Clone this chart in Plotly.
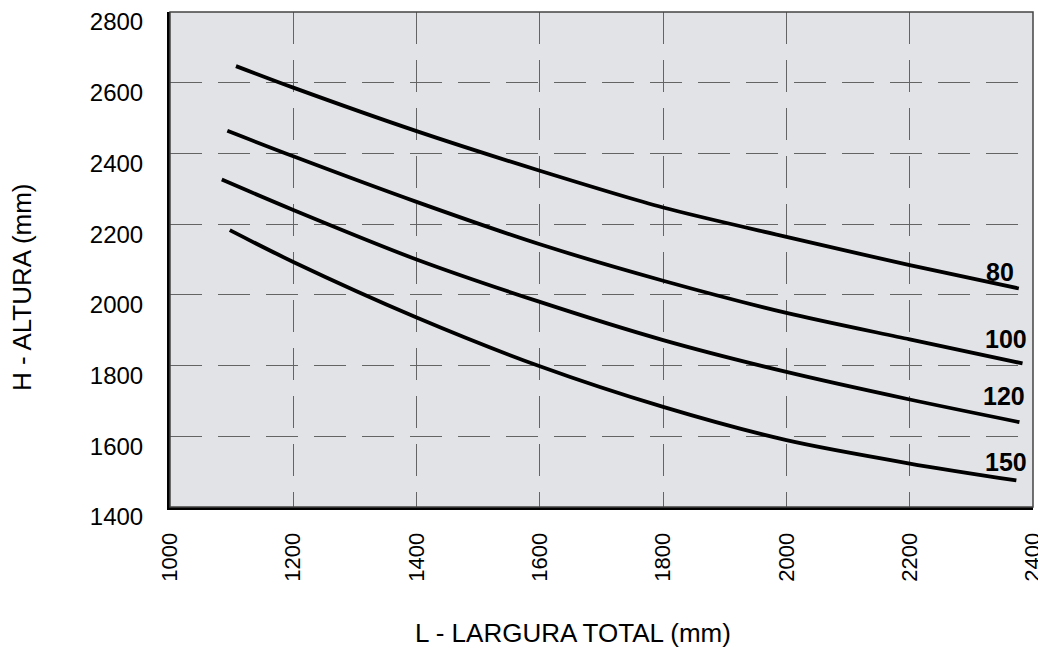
import plotly.graph_objects as go

# ---- data ----
x_ticks = [1000, 1200, 1400, 1600, 1800, 2000, 2200, 2400]
y_ticks = [1400, 1600, 1800, 2000, 2200, 2400, 2600, 2800]

x80 = [1107, 1200, 1400, 1600, 1800, 2000, 2200, 2377]
y80 = [2647, 2586, 2463, 2351, 2247, 2164, 2084, 2018]

x100 = [1093, 1200, 1400, 1600, 1800, 2000, 2200, 2383]
y100 = [2464, 2392, 2263, 2143, 2040, 1949, 1874, 1806]

x120 = [1084, 1200, 1400, 1600, 1800, 2000, 2200, 2378]
y120 = [2326, 2240, 2100, 1980, 1872, 1782, 1704, 1640]

x150 = [1097, 1200, 1400, 1600, 1800, 2000, 2200, 2373]
y150 = [2183, 2093, 1936, 1798, 1683, 1589, 1523, 1475]

curve_names = ["80", "100", "120", "150"]
label_x = [2346, 2356, 2353, 2357]
label_y = [2064, 1874, 1713, 1528]

x_title = "L - LARGURA TOTAL (mm)"
y_title = "H - ALTURA (mm)"

FONT = "Liberation Sans, Arial, sans-serif"

# the page body has an 8px margin, so the figure is sized to end at the window edge
W, H = 1038, 640
ml, mr, mt, mb = 162, 13, 4, 141
pw, ph = W - ml - mr, H - mt - mb

fig = go.Figure()
for xs, ys, nm in [(x80, y80, "80"), (x100, y100, "100"), (x120, y120, "120"), (x150, y150, "150")]:
    fig.add_trace(go.Scatter(x=xs, y=ys, mode="lines", name=nm,
                             line=dict(color="black", width=3.8, shape="spline", smoothing=0.8),
                             showlegend=False, hoverinfo="skip"))

for nm, lx, ly in zip(curve_names, label_x, label_y):
    fig.add_annotation(x=lx, y=ly, xref="x", yref="y", text="<b>%s</b>" % nm,
                       showarrow=False, font=dict(family=FONT, size=25, color="black"),
                       xanchor="center", yanchor="middle")

# axis titles placed as annotations (figure-pixel positions converted to paper coords)
fig.add_annotation(x=(565 - ml) / pw, y=(H - mb - 625) / ph, xref="paper", yref="paper",
                   text=x_title, showarrow=False, xanchor="center", yanchor="middle",
                   font=dict(family=FONT, size=26, color="black"))
fig.add_annotation(x=(14 - ml) / pw, y=(H - mb - 279) / ph, xref="paper", yref="paper",
                   text=y_title, showarrow=False, textangle=-90, xanchor="center", yanchor="middle",
                   font=dict(family=FONT, size=26, color="black"))

# thin frame on top/right
fig.add_shape(type="rect", xref="paper", yref="paper", x0=0, y0=0, x1=1, y1=1,
              line=dict(color="#444444", width=1.5), layer="above")

fig.update_layout(
    width=W, height=H,
    margin=dict(l=ml, r=mr, t=mt, b=mb, autoexpand=False),
    paper_bgcolor="white",
    plot_bgcolor="#e2e3e7",
    font=dict(family=FONT, size=24, color="black"),
    xaxis=dict(range=[1000, 2400], tickvals=x_ticks, ticktext=[str(v) for v in x_ticks],
               tickangle=-90, showgrid=True, gridcolor="#646464", gridwidth=1.3,
               griddash="32px,16px", zeroline=False, showline=True, linecolor="black",
               linewidth=3, ticks="", ticklabelstandoff=14, automargin=False,
               ticklabeloverflow="allow",
               tickfont=dict(family=FONT, size=22, color="black")),
    yaxis=dict(range=[1400, 2800], tickvals=y_ticks, ticktext=[str(v) for v in y_ticks],
               showgrid=True, gridcolor="#646464", gridwidth=1.3,
               griddash="32px,16px", zeroline=False, showline=True, linecolor="black",
               linewidth=3, ticks="", ticklabelstandoff=19, ticklabelshift=10, automargin=False,
               ticklabeloverflow="allow",
               tickfont=dict(family=FONT, size=24, color="black")),
)

fig.write_html("out.html")
